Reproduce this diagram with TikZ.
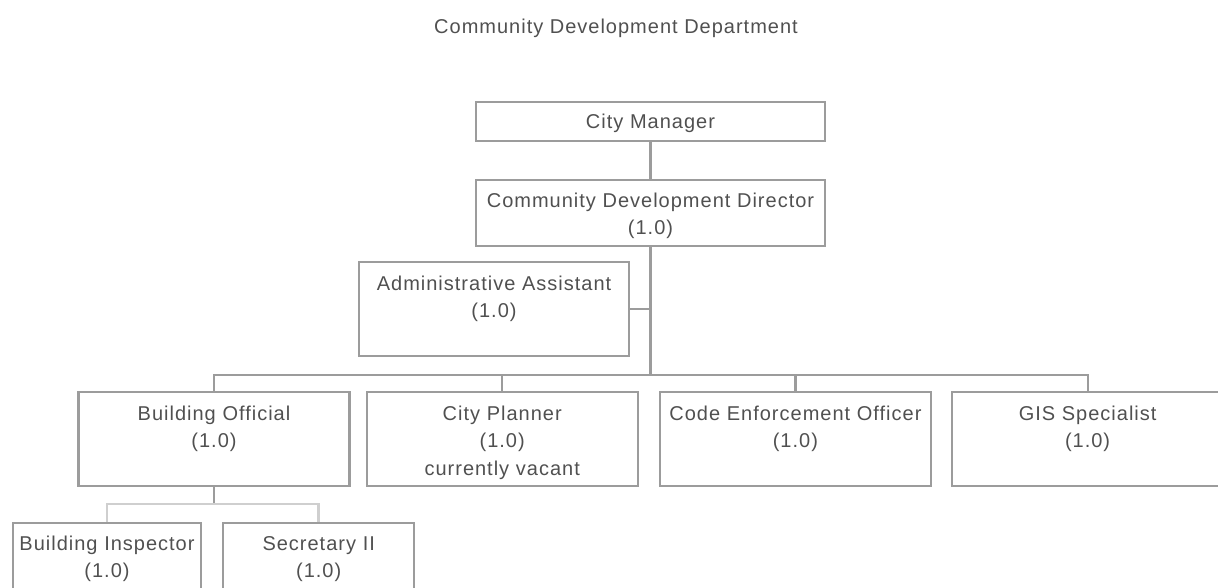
\documentclass[tikz,border=0pt]{standalone}
\usepackage{fontspec}
\setmainfont[LetterSpace=5]{Liberation Sans}
\usepackage{tikz}
\usetikzlibrary{positioning}

\definecolor{boxgray}{HTML}{9C9C9C}
\definecolor{lightgray}{HTML}{CFCFCF}
\definecolor{txtgray}{HTML}{505050}

\tikzset{
  box/.style={draw=boxgray, line width=2.2pt, text=txtgray, align=center,
    inner sep=0pt, font=\fontsize{20}{27.5}\selectfont},
  post/.style={box, text width=271pt, text height=28pt, text depth=66pt},
  link/.style={draw=boxgray, line width=2.2pt},
  sublink/.style={draw=lightgray, line width=2.6pt}
}

\begin{document}
\begin{tikzpicture}[x=1pt, y=-1pt]
     \useasboundingbox (0,0) rectangle (1218,588);
     %nodes
     \node[text=txtgray, font=\fontsize{20}{24}\selectfont] (title) at (616,28) {Community Development Department};
     \node[box, text width=349pt, text height=27pt, text depth=12pt] (mgr) at (650.5,121.5) {City Manager};
     \node[box, text width=349pt, text height=27pt, text depth=39pt, below=37pt of mgr] (dir) {Community Development Director\\(1.0)};
     \node[post, text width=270pt] (admin) at (494,309) {Administrative Assistant\\(1.0)};
     \node[post] (bldg) at (214,439) {Building Official\\(1.0)};
     \node[post, right=15pt of bldg] (plan) {City Planner\\(1.0)\\currently vacant};
     \node[post, right=20pt of plan] (code) {Code Enforcement Officer\\(1.0)};
     \node[post, right=19pt of code] (gis) {GIS Specialist\\(1.0)};
     \node[box, text width=188pt, text height=27pt, text depth=67pt] (insp) at (107,570) {Building Inspector\\(1.0)};
     \node[box, text width=191pt, text height=27pt, text depth=67pt, right=20pt of insp] (sec) {Secretary II\\(1.0)};

    % lines
    \draw[link] (mgr.south) -- (dir.north);
    \draw[link] (bldg.north) -- ++(0,-16) coordinate (bus) -| (gis.north);
    \draw[link] (dir.south) -- (dir.south |- bus);
    \draw[link] (admin.east) -- (admin.east -| dir.south);
    \draw[link] (plan.north) -- ++(0,-16);
    \draw[link] (code.north) -- ++(0,-16);
    \draw[link] (bldg.south) -- ++(0,17) coordinate (sub);
    \draw[sublink] (sub) -| (insp.north);
    \draw[sublink] (sub) -| (sec.north);
    \end{tikzpicture}
\end{document}
